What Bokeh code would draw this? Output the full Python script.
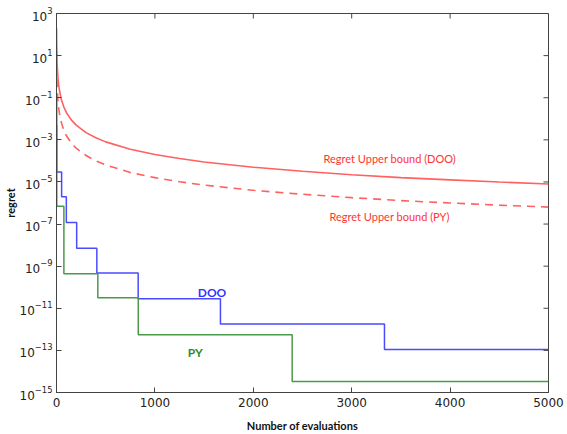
import math
from bokeh.plotting import figure
from bokeh.models import Range1d, FixedTicker, Label
from bokeh.embed import file_html
from bokeh.resources import INLINE

# ---- data ----
bound_x = [1, 2, 3, 5, 7, 10, 15, 20, 30, 50, 75, 100, 150, 200, 300, 400, 500,
           750, 1000, 1250, 1500, 2000, 2500, 3000, 3500, 4000, 4500, 5000]
bound_doo = [200, 50, 22, 8, 4.1, 2, 0.89, 0.5, 0.22, 0.08, 0.036, 0.02, 0.0089,
             0.005, 0.0022, 1.25e-3, 8e-4, 3.6e-4, 2e-4, 1.3e-4, 8.9e-5, 5e-5,
             3.2e-5, 2.2e-5, 1.6e-5, 1.25e-5, 9.9e-6, 8e-6]
bound_py = [16, 4, 1.8, 0.64, 0.33, 0.16, 0.071, 0.04, 0.018, 6.4e-3, 2.8e-3,
            1.6e-3, 7.1e-4, 4e-4, 1.8e-4, 1e-4, 6.4e-5, 2.8e-5, 1.6e-5, 1.02e-5,
            7.1e-6, 4e-6, 2.6e-6, 1.8e-6, 1.3e-6, 1e-6, 7.9e-7, 6.4e-7]

doo_x = [0, 2, 52, 100, 205, 410, 830, 1666, 3333, 5000]
doo_regret = [5e-3, 3e-5, 2e-6, 1.2e-7, 7e-9, 4.7e-10, 2.8e-11, 1.8e-12, 1.1e-13, 1.1e-13]

py_x = [0, 3, 75, 420, 831, 2395, 5000]
py_regret = [0.1, 7e-7, 4.4e-10, 3.2e-11, 5.6e-13, 3.3e-15, 3.3e-15]

x_ticks = [0, 1000, 2000, 3000, 4000, 5000]
y_ticks = [1e-15, 1e-13, 1e-11, 1e-9, 1e-7, 1e-5, 1e-3, 1e-1, 1e1, 1e3]

X_MIN, X_MAX = 0, 5000
Y_MIN, Y_MAX = 1e-15, 1e3

RED = "#ff6060"
BLUE = "#4a4aff"
GREEN = "#4a9a4a"
FRAME = "#444444"

p = figure(width=567, height=434, y_axis_type="log",
           x_range=Range1d(X_MIN, X_MAX), y_range=Range1d(Y_MIN, Y_MAX),
           output_backend="svg", toolbar_location=None,
           min_border_left=56, min_border_right=19,
           min_border_top=13, min_border_bottom=41)
p.grid.visible = False
p.outline_line_color = FRAME
p.background_fill_color = "white"
p.border_fill_color = "white"

p.line(bound_x, bound_doo, line_color=RED, line_width=1.6)
p.line(bound_x, bound_py, line_color=RED, line_width=1.6, line_dash="8 6")
p.step(doo_x, doo_regret, mode="after", line_color=BLUE, line_width=1.5)
p.step(py_x, py_regret, mode="after", line_color=GREEN, line_width=1.5)

# tick marks on top and right frame edges (inward)
p.ray(x=x_ticks, y=[Y_MAX] * len(x_ticks), length=5, length_units="screen",
      angle=-math.pi / 2, line_color=FRAME, line_width=1)
p.ray(x=[X_MAX] * len(y_ticks), y=y_ticks, length=5, length_units="screen",
      angle=math.pi, line_color=FRAME, line_width=1)

xa = p.xaxis[0]
ya = p.yaxis[0]
xa.ticker = FixedTicker(ticks=x_ticks)
ya.ticker = FixedTicker(ticks=y_ticks)
xa.axis_label = "Number of evaluations"
ya.axis_label = "regret"
for ax in (xa, ya):
    ax.axis_line_color = FRAME
    ax.major_tick_line_color = FRAME
    ax.major_tick_in = 5
    ax.major_tick_out = 0
    ax.minor_tick_line_color = None
    ax.major_label_text_font = "DejaVu Sans"
    ax.major_label_text_font_size = "12px"
    ax.major_label_text_color = "#222222"
    ax.axis_label_text_font = "Lato"
    ax.axis_label_text_font_style = "bold"
    ax.axis_label_text_font_size = "11px"
    ax.axis_label_text_color = "#111111"
xa.major_label_standoff = 5
xa.axis_label_standoff = 9
ya.major_label_standoff = 4
ya.axis_label_standoff = 0

def note(x, y, text, color, size="11px", style="normal"):
    p.add_layout(Label(x=x, y=y, text=text, text_color=color, text_font="Lato",
                       text_font_size=size, text_font_style=style,
                       text_baseline="middle", text_align="left"))

note(2713, 10**-3.87, "Regret Upper bound (DOO)", "#ff3333")
note(2774, 10**-6.62, "Regret Upper bound (PY)", "#ff3333")
note(1436, 10**-10.25, "DOO", "#3333ff", size="12px", style="bold")
note(1334, 10**-13.09, "PY", "#2e8b2e", size="12px", style="bold")

open("out.html", "w").write(file_html(p, INLINE))
